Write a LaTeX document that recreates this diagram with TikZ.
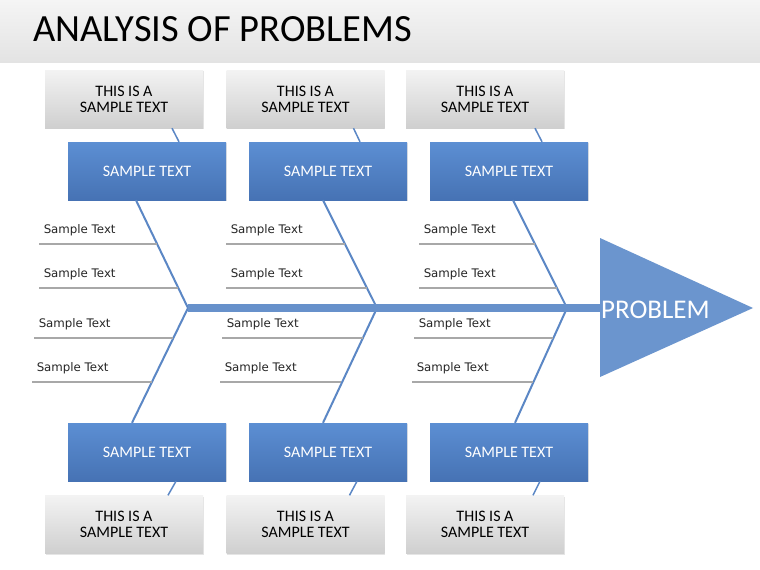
\documentclass[tikz,border=0pt]{standalone}
\usepackage{fontspec}
\setmainfont{Carlito}
\newfontfamily\labelfont{DejaVu Sans}
\usetikzlibrary{shadows}
\definecolor{bonec}{HTML}{5B87C5}
\definecolor{spinec}{HTML}{6791CB}
\definecolor{headc}{HTML}{6B95CE}
\definecolor{bluet}{HTML}{5C8FD3}
\definecolor{blueb}{HTML}{4672B4}
\definecolor{grayt}{HTML}{F3F3F3}
\definecolor{grayb}{HTML}{CFCFCF}
\definecolor{ulinec}{HTML}{A8A8A8}
\begin{document}
\begin{tikzpicture}[
        x=1pt, y=-1pt,
        grayn/.style={top color=grayt, bottom color=grayb, minimum width=158pt, minimum height=58pt, inner sep=0pt, align=center, font=\fontsize{16}{16}\selectfont, drop shadow={opacity=0.2, shadow xshift=0.8pt, shadow yshift=-1.2pt}},
        bluen/.style={top color=bluet, bottom color=blueb, minimum width=158pt, minimum height=58pt, inner sep=0pt, text=white, font=\fontsize{16}{16}\selectfont, drop shadow={opacity=0.2, shadow xshift=0.8pt, shadow yshift=-1.2pt}},
        lbl/.style={anchor=base west, inner xsep=4pt, inner ysep=0pt, yshift=11pt, text=black!85, font=\labelfont\fontsize{11.8}{13}\selectfont},
        bone/.style={draw=bonec, line width=2pt},
        link/.style={draw=bonec, line width=1.5pt},
        uline/.style={draw=ulinec, line width=1.5pt},
    ]
    \useasboundingbox (0,0) rectangle (760,570);
    \fill[white] (0,0) rectangle (760,570);
    % title band
    \fill[top color=white!96!black, bottom color=white!89!black] (0,0) rectangle (760,62);
    \node[anchor=base west, inner sep=0pt, font=\fontsize{38.5}{40}\selectfont] (title) at (33,41) {ANALYSIS OF PROBLEMS};

    % top row
    \node[grayn] (g1t) at (124,99) {THIS IS A\\SAMPLE TEXT};
    \node[grayn] (g2t) at (305.5,99) {THIS IS A\\SAMPLE TEXT};
    \node[grayn] (g3t) at (485,99) {THIS IS A\\SAMPLE TEXT};
    \node[bluen] (b1t) at (147,171) {SAMPLE TEXT};
    \node[bluen] (b2t) at (328,171) {SAMPLE TEXT};
    \node[bluen] (b3t) at (509,171) {SAMPLE TEXT};
    % bottom row
    \node[bluen] (b1b) at (147,452) {SAMPLE TEXT};
    \node[bluen] (b2b) at (328,452) {SAMPLE TEXT};
    \node[bluen] (b3b) at (509,452) {SAMPLE TEXT};
    \node[grayn] (g1b) at (124,524.5) {THIS IS A\\SAMPLE TEXT};
    \node[grayn] (g2b) at (305.5,524.5) {THIS IS A\\SAMPLE TEXT};
    \node[grayn] (g3b) at (485,524.5) {THIS IS A\\SAMPLE TEXT};

    % joints on the spine
    \coordinate (j1) at (188,308);
    \coordinate (j2) at (377,308);
    \coordinate (j3) at (567,308);
    \coordinate (head) at (600,308);

    % links between boxes
    \draw[link] ([xshift=48pt]g1t.south) -- ([xshift=32pt]b1t.north);
    \draw[link] ([xshift=48pt]g2t.south) -- ([xshift=32pt]b2t.north);
    \draw[link] ([xshift=50pt]g3t.south) -- ([xshift=33pt]b3t.north);
    \draw[link] ([xshift=29pt]b1b.south) -- ([xshift=44pt]g1b.north);
    \draw[link] ([xshift=29pt]b2b.south) -- ([xshift=44pt]g2b.north);
    \draw[link] ([xshift=31pt]b3b.south) -- ([xshift=48pt]g3b.north);

    % bones
    \draw[bone] ([xshift=-11pt]b1t.south) -- (j1) -- ([xshift=-15pt]b1b.north);
    \draw[bone] ([xshift=-5pt]b2t.south) -- (j2) -- ([xshift=-5pt]b2b.north);
    \draw[bone] ([xshift=4pt]b3t.south) -- (j3) -- ([xshift=6pt]b3b.north);

    % sample texts
    \draw[uline] (39,244) -- (157,244) node[lbl, pos=0] (s1a) {Sample Text};
    \draw[uline] (39,288) -- (178,288) node[lbl, pos=0] (s1b) {Sample Text};
    \draw[uline] (34,338) -- (173,338) node[lbl, pos=0] (s1c) {Sample Text};
    \draw[uline] (32,382) -- (152,382) node[lbl, pos=0] (s1d) {Sample Text};
    \draw[uline] (226,244) -- (345,244) node[lbl, pos=0] (s2a) {Sample Text};
    \draw[uline] (226,288) -- (367,288) node[lbl, pos=0] (s2b) {Sample Text};
    \draw[uline] (222,338) -- (363,338) node[lbl, pos=0] (s2c) {Sample Text};
    \draw[uline] (220,382) -- (341,382) node[lbl, pos=0] (s2d) {Sample Text};
    \draw[uline] (419,244) -- (535,244) node[lbl, pos=0] (s3a) {Sample Text};
    \draw[uline] (419,288) -- (557,288) node[lbl, pos=0] (s3b) {Sample Text};
    \draw[uline] (414,338) -- (553,338) node[lbl, pos=0] (s3c) {Sample Text};
    \draw[uline] (412,382) -- (533,382) node[lbl, pos=0] (s3d) {Sample Text};

    % spine and head
    \draw[draw=spinec, line width=8pt] (j1) -- (head);
    \fill[headc] (600,238) -- (753,308) -- (600,377) -- cycle;
    \node[anchor=base west, inner sep=0pt, text=white, font=\fontsize{27}{30}\selectfont] (prob) at (601,318) {PROBLEM};
\end{tikzpicture}
\end{document}
